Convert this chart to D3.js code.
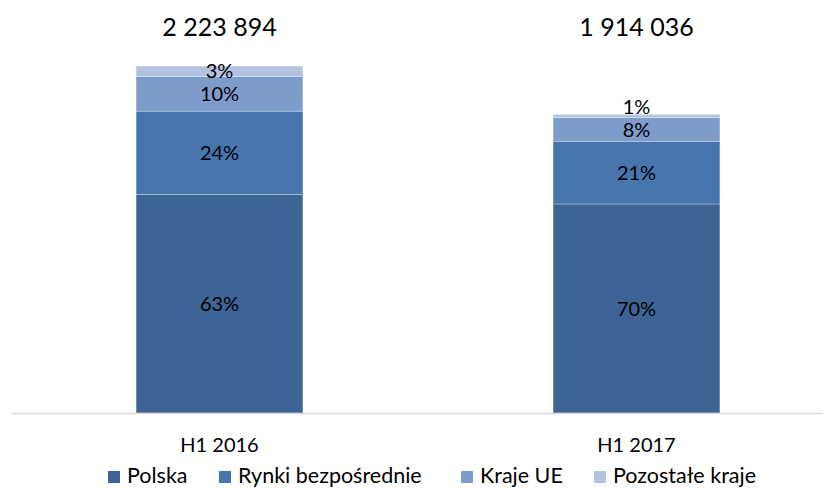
<!DOCTYPE html>
<html>
<head>
<meta charset="utf-8">
<script src="https://cdn.jsdelivr.net/npm/d3@7"></script>
<style>
  body { margin: 0; background: #fff; }
  text { font-family: Lato, "Open Sans", sans-serif; fill: #000; }
</style>
</head>
<body>
<div id="vis"></div>
<script>
// setting constants
const FRAME_WIDTH = 833;
const FRAME_HEIGHT = 488;

// data
const categories = ["H1 2016", "H1 2017"];
const totals = [2223894, 1914036];
const seriesNames = ["Polska", "Rynki bezpośrednie", "Kraje UE", "Pozostałe kraje"];
const seriesColors = ["#3D6494", "#4776AE", "#7D9CC9", "#B3C3DF"];
// shares in percent, one array per category (same order as seriesNames)
const shares2016 = [63, 24, 10, 3];
const shares2017 = [70, 21, 8, 1];
const shares = [shares2016, shares2017];

const FRAME = d3.select("#vis")
  .append("svg")
  .attr("width", FRAME_WIDTH)
  .attr("height", FRAME_HEIGHT);

// scales
const X_SCALE = d3.scaleBand()
  .domain(categories)
  .range([11, 845])
  .paddingInner(0.6)
  .paddingOuter(0.3);

const Y_SCALE = d3.scaleLinear()
  .domain([0, 2500000])
  .range([413, 23]);

// build stacked rows
const rows = categories.map((c, i) => {
  const row = {cat: c};
  seriesNames.forEach((s, j) => { row[s] = totals[i] * shares[i][j] / 100; });
  return row;
});
const stacked = d3.stack().keys(seriesNames)(rows);

// bars
const groups = FRAME.selectAll(".series")
  .data(stacked)
  .enter()
  .append("g")
    .attr("fill", (d, i) => seriesColors[i]);

groups.selectAll("rect")
  .data(d => d)
  .enter()
  .append("rect")
    .attr("x", d => X_SCALE(d.data.cat))
    .attr("width", X_SCALE.bandwidth())
    .attr("y", d => Y_SCALE(d[1]))
    .attr("height", d => Y_SCALE(d[0]) - Y_SCALE(d[1]))
    .attr("stroke", "#ffffff")
    .attr("stroke-opacity", 0.35)
    .attr("stroke-width", 0.8);

// percent labels, pushed up if they would collide with the one below
categories.forEach((c, i) => {
  let prevY = Infinity;
  stacked.forEach((layer, j) => {
    const d = layer[i];
    let cy = (Y_SCALE(d[0]) + Y_SCALE(d[1])) / 2;
    cy = Math.min(cy, prevY - 23);
    prevY = cy;
    FRAME.append("text")
      .attr("x", X_SCALE(c) + X_SCALE.bandwidth() / 2)
      .attr("y", cy)
      .attr("dy", "0.36em")
      .attr("text-anchor", "middle")
      .attr("font-size", "20px")
      .text(shares[i][j] + "%");
  });
});

// totals above bars
const fmt = v => d3.format(",")(v).replace(/,/g, " ");
FRAME.selectAll(".total")
  .data(totals)
  .enter()
  .append("text")
    .attr("x", (d, i) => X_SCALE(categories[i]) + X_SCALE.bandwidth() / 2)
    .attr("y", 36)
    .attr("text-anchor", "middle")
    .attr("font-size", "25px")
    .text(d => fmt(d));

// axis
const xAxis = FRAME.append("g")
  .attr("transform", "translate(0," + Y_SCALE(0) + ")")
  .call(d3.axisBottom(X_SCALE).tickSize(0).tickPadding(25));
xAxis.select(".domain")
  .attr("d", "M11,0.5H823")
  .attr("stroke", "#d9d9d9")
  .attr("stroke-width", 1.5);
xAxis.selectAll("text")
  .attr("font-size", "20px")
  .attr("font-family", "Lato, sans-serif")
  .attr("fill", "#000");

// legend
const legendX = [108, 219, 461, 594];
const legend = FRAME.selectAll(".legend")
  .data(seriesNames)
  .enter()
  .append("g")
    .attr("transform", (d, i) => "translate(" + legendX[i] + ",483)");
legend.append("rect")
  .attr("x", 0)
  .attr("y", -12)
  .attr("width", 12)
  .attr("height", 12)
  .attr("fill", (d, i) => seriesColors[i]);
legend.append("text")
  .attr("x", 19)
  .attr("font-size", "21.5px")
  .text(d => d);
</script>
</body>
</html>
